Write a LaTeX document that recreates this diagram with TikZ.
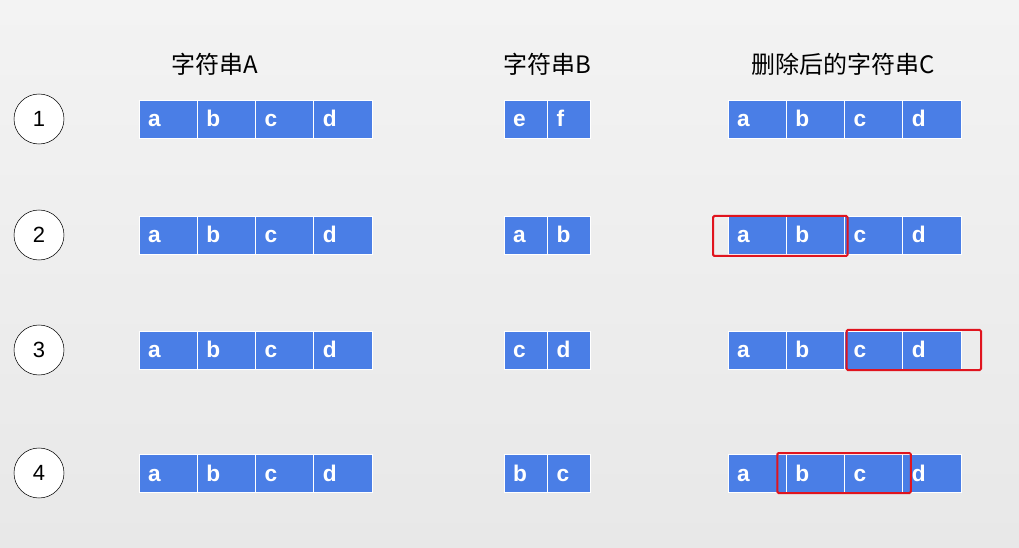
\documentclass[tikz,border=0pt]{standalone}
\usepackage{fontspec}
\setmainfont{Liberation Sans}
\newfontfamily\cjk{Noto Sans CJK SC}
\usetikzlibrary{positioning, calc}
\definecolor{cellblue}{HTML}{4A7EE6}
\definecolor{hitred}{HTML}{E0141E}
\definecolor{bgtop}{HTML}{F3F3F3}
\definecolor{bgbot}{HTML}{E8E8E8}

\begin{document}
\begin{tikzpicture}[x=0.75pt, y=-0.75pt,
  cell/.style={draw=white, line width=0.7pt, fill=cellblue, text=white,
               minimum height=28.5pt, inner xsep=6.8pt, inner ysep=0pt, outer sep=0pt,
               text height=12pt, text depth=0pt, align=left,
               font=\bfseries\fontsize{17}{17}\selectfont},
  wide/.style={cell, text width=30.1pt},
  slim/.style={cell, text width=19pt},
  num/.style={circle, draw, fill=white, minimum size=37.5pt, inner sep=0pt,
              font=\fontsize{16.5}{16.5}\selectfont},
  title/.style={font=\cjk\fontsize{18}{18}\selectfont},
  hit/.style={draw=hitred, line width=1.5pt, rounded corners=1pt},
  node distance=0pt,
]
  \shade[top color=bgtop, bottom color=bgbot] (0,0) rectangle (1019,548);

  \node[title] (ta) at (215,64) {字符串A};
  \node[title] (tb) at (547,64) {字符串B};
  \node[title] (tc) at (843,64) {删除后的字符串C};

  \foreach \r/\y/\p/\q in {1/119/e/f, 2/235/a/b, 3/350/c/d, 4/473/b/c} {
    \node[num] (n\r) at (39,\y) {\r};

    \node[wide, anchor=west] (a\r1) at (139,\y) {a};
    \node[wide, right=of a\r1] (a\r2) {b};
    \node[wide, right=of a\r2] (a\r3) {c};
    \node[wide, right=of a\r3] (a\r4) {d};

    \node[slim, anchor=west] (b\r1) at (504,\y) {\p};
    \node[slim, right=of b\r1] (b\r2) {\q};

    \node[wide, anchor=west] (c\r1) at (728,\y) {a};
    \node[wide, right=of c\r1] (c\r2) {b};
    \node[wide, right=of c\r2] (c\r3) {c};
    \node[wide, right=of c\r3] (c\r4) {d};
  }

  \draw[hit] ($(c21.north west)+(-15,0)$) rectangle ($(c22.south east)+(3,2)$);
  \draw[hit] ($(c33.north west)+(2,-1)$) rectangle ($(c34.south east)+(20,1)$);
  \draw[hit] ($(c42.north west)+(-9,-1)$) rectangle ($(c43.south east)+(8,1)$);
\end{tikzpicture}
\end{document}
